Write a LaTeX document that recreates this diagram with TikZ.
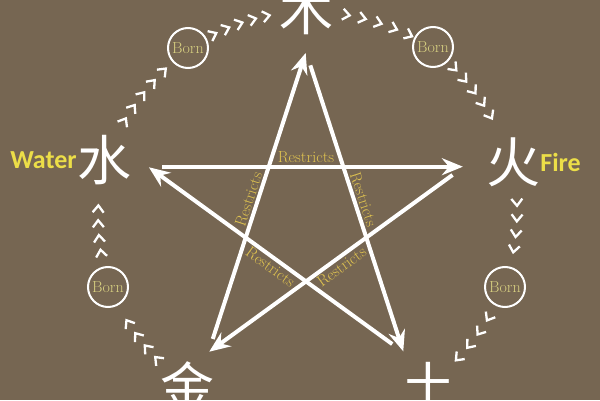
\documentclass[tikz,border=0pt]{standalone}
\usepackage{fontspec}
\usepackage{tikz}
\usetikzlibrary{arrows.meta,positioning,decorations.markings}
\newfontfamily\cjkfont{Noto Sans CJK SC}
\newfontfamily\namefont{Carlito}
\definecolor{earthbrown}{RGB}{118,102,82}
\definecolor{goldtext}{RGB}{222,194,80}
\definecolor{bornyellow}{RGB}{214,206,128}
\definecolor{nameyellow}{RGB}{236,222,72}

\begin{document}
\begin{tikzpicture}[x=1pt, y=1pt]

		\tikzset{
			element/.style={inner sep=0pt, white, font=\cjkfont\fontsize{54}{54}\selectfont},
			element name/.style={inner sep=0pt, nameyellow, font=\namefont\bfseries\fontsize{26}{26}\selectfont},
			born/.style={circle, draw=white, line width=2pt, minimum size=40pt, inner sep=0pt, text=bornyellow, font=\fontsize{16}{16}\selectfont},
			restrict/.style={white, line width=4pt, shorten <=14pt, shorten >=1pt, -{Stealth[length=21pt,width=17pt,inset=7pt]}},
			restricts/.style={goldtext, inner sep=1.5pt, font=\fontsize{16}{16}\selectfont},
			born chain/.style args={#1:#2:#3}{
				postaction={decorate, decoration={markings,
					mark=between positions #1 and #2 step #3 with {\draw[white, line width=2.3pt] (-4pt,5.5pt) -- (3pt,0pt) -- (-4pt,-5.5pt);}}}
			}
		}

		% background
		\useasboundingbox (0,0) rectangle (600,400);
		\clip (0,0) rectangle (600,400);
		\fill[earthbrown] (0,0) rectangle (600,400);

		% elements
		\node[element] (mu) at (306,390) {木};
		\node[element] (huo) at (513,238) {火};
		\node[element] (tu) at (428,14) {土};
		\node[element] (jin) at (187,14) {金};
		\node[element] (shui) at (104,240) {水};

		\node[element name, left=0pt of shui] (water) {Water};
		\node[element name, right=0pt of huo] (fire) {Fire};

		% born circles
		\node[born] (born1) at (188,352) {Born};
		\node[born] (born2) at (433,353) {Born};
		\node[born] (born3) at (505,113) {Born};
		\node[born] (born4) at (108,113) {Born};

		% chevrons between elements and born circles
		\path[born chain=44pt:108pt:16pt] (shui.center) to[bend left=12] (born1.center);
		\path[born chain=29pt:99.5pt:14.1pt] (born1.center) to[bend left=12] (mu.center);
		\path[born chain=41pt:107pt:16.5pt] (mu.center) to[bend left=12] (born2.center);
		\path[born chain=30pt:90pt:15pt] (born2.center) to[bend left=12] (huo.center);
		\path[born chain=41pt:88pt:15.6pt] (huo.center) to[bend left=12] (born3.center);
		\path[born chain=35pt:86pt:16.9pt] (born3.center) to[bend left=12] (tu.center);
		\path[born chain=40pt:87pt:15.6pt] (jin.center) to[bend left=12] (born4.center);
		\path[born chain=35pt:80pt:14.8pt] (born4.center) to[bend left=12] (shui.center);

		% star
		\foreach \n/\a in {1/90, 2/18, 3/-54, 4/-126, 5/162}
			\coordinate (v\n) at ([shift={(306,182)}]\a:166);

		\draw[restrict] (v4) -- node[restricts, rotate=72, above] {Restricts} (v1);
		\draw[restrict] (v1) -- node[restricts, rotate=-72, above] {Restricts} (v3);
		\draw[restrict] (v3) -- node[restricts, rotate=-36, below] {Restricts} (v5);
		\draw[restrict] (v5) -- node[restricts, above] {Restricts} (v2);
		\draw[restrict] (v2) -- node[restricts, rotate=36, below] {Restricts} (v4);

\end{tikzpicture}
\end{document}
